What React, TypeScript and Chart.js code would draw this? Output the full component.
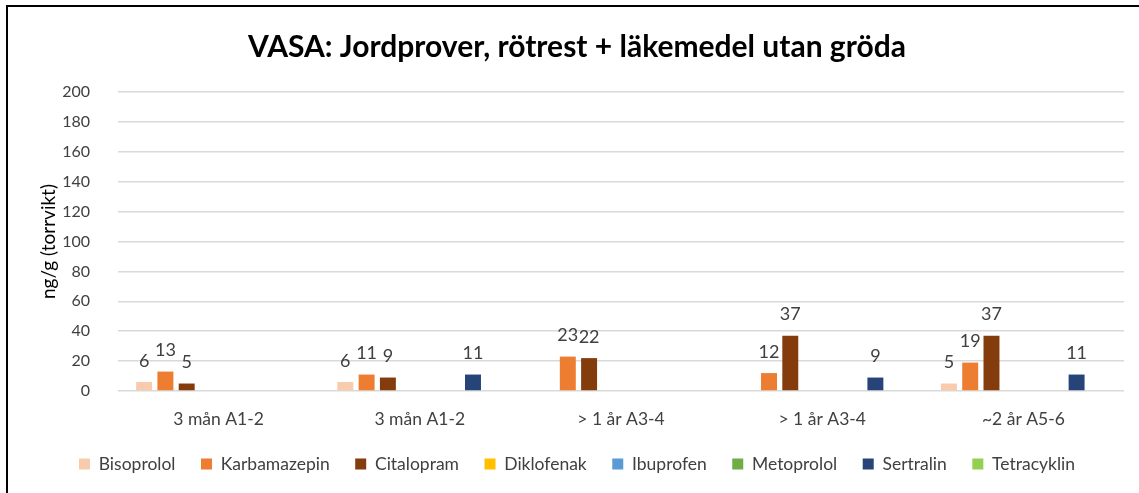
import React, { useEffect, useRef } from "react";
import { Chart, registerables } from "chart.js";

Chart.register(...registerables);

const categories = ["3 mån A1-2", "3 mån A1-2", "> 1 år A3-4", "> 1 år A3-4", "~2 år A5-6"];
const seriesNames = ["Bisoprolol", "Karbamazepin", "Citalopram", "Diklofenak", "Ibuprofen", "Metoprolol", "Sertralin", "Tetracyklin"];
const seriesColors = ["#F8CBAD", "#ED7D31", "#843C0C", "#FFC000", "#5B9BD5", "#70AD47", "#264478", "#92D050"];

const bisoprolol = [6, 6, null, null, 5];
const karbamazepin = [13, 11, 23, 12, 19];
const citalopram = [5, 9, 22, 37, 37];
const diklofenak = [null, null, null, null, null];
const ibuprofen = [null, null, null, null, null];
const metoprolol = [null, null, null, null, null];
const sertralin = [null, 11, null, 9, 11];
const tetracyklin = [null, null, null, null, null];

const seriesValues = [bisoprolol, karbamazepin, citalopram, diklofenak, ibuprofen, metoprolol, sertralin, tetracyklin];

const yTicks = [0, 20, 40, 60, 80, 100, 120, 140, 160, 180, 200];

const FONT = "Lato, 'Liberation Sans', sans-serif";

const valueLabels = {
  id: "valueLabels",
  afterDatasetsDraw(chart: any) {
    const ctx = chart.ctx;
    ctx.save();
    ctx.font = `18px ${FONT}`;
    ctx.fillStyle = "#404040";
    ctx.textAlign = "center";
    ctx.textBaseline = "middle";
    chart.data.datasets.forEach((ds: any, di: number) => {
      const meta = chart.getDatasetMeta(di);
      meta.data.forEach((bar: any, i: number) => {
        const v = ds.data[i];
        if (v === null || v === undefined) return;
        ctx.fillText(String(v), bar.x, bar.y - 21);
      });
    });
    ctx.restore();
  },
};

export default function App() {
  const ref = useRef<HTMLCanvasElement>(null);
  useEffect(() => {
    const chart = new Chart(ref.current!, {
      type: "bar",
      data: {
        labels: categories,
        datasets: seriesNames.map((name, i) => ({
          label: name,
          data: seriesValues[i],
          backgroundColor: seriesColors[i],
          borderWidth: 0,
          categoryPercentage: 0.846,
          barPercentage: 0.75,
        })),
      },
      options: {
        animation: false,
        responsive: false,
        maintainAspectRatio: false,
        layout: { padding: { left: 30, right: 15, top: 0, bottom: 10.25 } },
        plugins: {
          title: {
            display: true,
            text: "VASA: Jordprover, rötrest + läkemedel utan gröda",
            color: "#000000",
            font: { family: FONT, size: 30, weight: "bold" },
            padding: { top: 29, bottom: 27 },
          },
          legend: {
            position: "bottom",
            labels: {
              color: "#404040",
              font: { family: FONT, size: 17.5 },
              boxWidth: 11,
              boxHeight: 11,
              padding: 25.5,
            },
          },
          tooltip: { enabled: false },
        },
        scales: {
          x: {
            grid: { display: false, drawTicks: false },
            border: { display: false },
            ticks: { color: "#404040", font: { family: FONT, size: 17.5 }, padding: 17.5, maxRotation: 0 },
            afterFit: (s: any) => { s.height = 38.75; },
          },
          y: {
            min: 0,
            max: 200,
            afterBuildTicks: (s: any) => { s.ticks = yTicks.map((v) => ({ value: v })); },
            grid: { color: "#D9D9D9", lineWidth: 1.5, drawTicks: false },
            border: { display: false },
            ticks: { color: "#404040", font: { family: FONT, size: 16 }, padding: 28 },
            title: {
              display: true,
              text: "ng/g (torrvikt)",
              color: "#000000",
              font: { family: FONT, size: 19 },
              padding: { top: 7.6, bottom: 0 },
            },
            afterFit: (s: any) => { s.width = 88; },
          },
        },
      },
      plugins: [valueLabels],
    });
    return () => chart.destroy();
  }, []);

  return (
    <div style={{ position: "fixed", left: 0, top: 0, width: 1139, height: 493, background: "#fff", overflow: "hidden" }}>
      <canvas ref={ref} width={1139} height={493} style={{ position: "absolute", left: 0, top: 0, width: 1139, height: 493 }} />
      <div style={{ position: "absolute", left: 6, top: 5, width: 1200, height: 600, borderLeft: "2.5px solid #000", borderTop: "2.5px solid #000", pointerEvents: "none" }} />
    </div>
  );
}
